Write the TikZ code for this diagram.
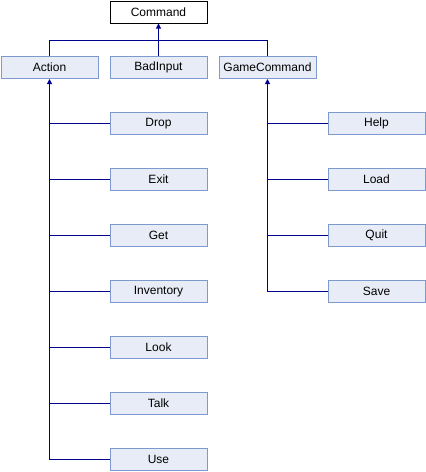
\documentclass[tikz,border=0pt]{standalone}
\usepackage{fontspec}
\setmainfont{Liberation Sans}
\usetikzlibrary{arrows.meta}
\definecolor{boxfill}{HTML}{E8ECF6}
\definecolor{boxline}{HTML}{7E99CE}
\definecolor{linkcol}{HTML}{000090}
\tikzset{
  cls/.style={draw=boxline, fill=boxfill, line width=1pt, minimum width=97pt, minimum height=22pt, inner sep=0pt, font=\fontsize{12}{14}\selectfont},
  root/.style={cls, draw=black, fill=white},
  link/.style={draw=linkcol, line width=1pt},
  inh/.style={link, -{Triangle[width=5pt,length=5pt]}}
}
\begin{document}
\begin{tikzpicture}[x=1pt,y=-1pt]
\useasboundingbox (0,0) rectangle (426,472);
\node[root] (Command) at (158.5,12) {Command};
\node[cls] (Action) at (49.5,67.5) {Action};
\node[cls] (BadInput) at (158.5,67.5) {BadInput};
\node[cls] (GameCommand) at (267.5,67.5) {GameCommand};
\node[cls] (Drop) at (158.5,123.5) {Drop};
\node[cls] (Exit) at (158.5,179.5) {Exit};
\node[cls] (Get) at (158.5,235.5) {Get};
\node[cls] (Inventory) at (158.5,291.5) {Inventory};
\node[cls] (Look) at (158.5,347.5) {Look};
\node[cls] (Talk) at (158.5,403.5) {Talk};
\node[cls] (Use) at (158.5,459.5) {Use};
\node[cls] (Help) at (376.5,123.5) {Help};
\node[cls] (Load) at (376.5,179.5) {Load};
\node[cls] (Quit) at (376.5,235.5) {Quit};
\node[cls] (Save) at (376.5,291.5) {Save};
% root level
\coordinate (j1) at (158.5,40.5);
\draw[inh] (j1) -- (Command.south);
\draw[link] (Action.north) |- (j1) -| (GameCommand.north);
\draw[link] (BadInput.north) -- (j1);
% Action children
\coordinate (aEnd) at (Action.south |- Use.west);
\draw[inh] (aEnd) -- (Action.south);
\foreach \n in {Drop,Exit,Get,Inventory,Look,Talk,Use}
  \draw[link] (\n.west) -- (Action.south |- \n.west);
% GameCommand children
\coordinate (gEnd) at (GameCommand.south |- Save.west);
\draw[inh] (gEnd) -- (GameCommand.south);
\foreach \n in {Help,Load,Quit,Save}
  \draw[link] (\n.west) -- (GameCommand.south |- \n.west);
\end{tikzpicture}
\end{document}
